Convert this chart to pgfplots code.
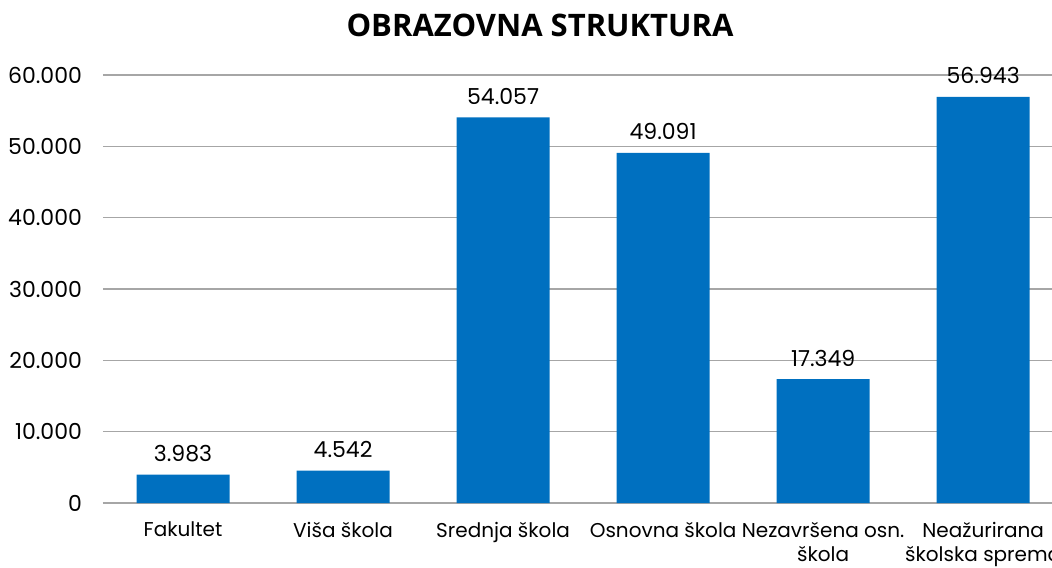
\documentclass[border=0pt]{standalone}
\usepackage{pgfplots}
\pgfplotsset{compat=1.18}
\usepackage{fontspec}
\setmainfont{Poppins}
\newfontfamily\titlefont{Open Sans}
\definecolor{barblue}{HTML}{0070C0}
\definecolor{gridgray}{HTML}{A6A6A6}
\begin{document}
\begin{tikzpicture}[x=0.5pt,y=0.5pt]
\useasboundingbox (0,0) rectangle (1052,567);
\clip (0,0) rectangle (1052,567);
\node[font=\titlefont\bfseries\fontsize{15.5pt}{18pt}\selectfont, anchor=base] at (540,530) {OBRAZOVNA STRUKTURA};
\begin{axis}[
  at={(51.5pt,32pt)}, anchor=south west,
  scale only axis, width=474.5pt, height=214pt,
  ymin=0, ymax=60000,
  xmin=-0.5, xmax=5.43,
  ytick={0,10000,20000,30000,40000,50000,60000},
  xtick={0,1,2,3,4,5},
  xticklabels={Fakultet,Viša škola,Srednja škola,Osnovna škola,{Nezavršena osn.\\škola},{Neažurirana\\školska sprema}},
  xticklabel style={align=center, font=\fontsize{10pt}{12pt}\selectfont, yshift=-6pt},
  yticklabel style={font=\fontsize{11pt}{13pt}\selectfont, xshift=-7pt},
  /pgf/number format/assume math mode=true,
  /pgf/number format/.cd, fixed, 1000 sep={.}, /pgfplots/.cd,
  scaled y ticks=false,
  ymajorgrids, grid style={gridgray, line width=0.6pt},
  axis x line*=bottom, axis y line*=left,
  x axis line style={gridgray, line width=0.6pt},
  y axis line style={draw=none},
  major tick length=0pt,
  tick style={draw=none},
  ybar, bar width=46.5pt,
  nodes near coords,
  nodes near coords style={font=\fontsize{11pt}{13pt}\selectfont, yshift=3pt, /pgf/number format/.cd, fixed, 1000 sep={.}, assume math mode=true},
]
\addplot[fill=barblue, draw=none] coordinates {(0,3983) (1,4542) (2,54057) (3,49091) (4,17349) (5,56943)};
\end{axis}
\end{tikzpicture}
\end{document}
